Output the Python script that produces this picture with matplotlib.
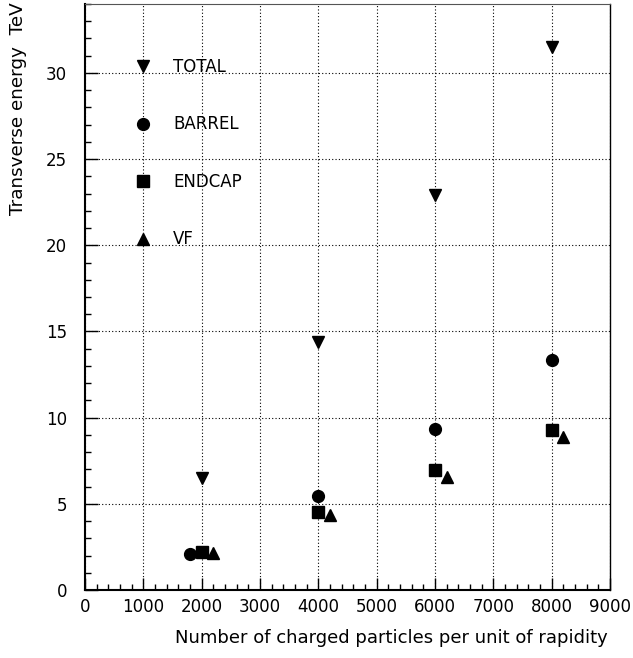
import matplotlib
matplotlib.use("Agg")
import matplotlib.pyplot as plt
from matplotlib.ticker import MultipleLocator

# Data
total_x = [2000, 4000, 6000, 8000]
total_y = [6.5, 14.4, 22.9, 31.5]
barrel_x = [1800, 4000, 6000, 8000]
barrel_y = [2.1, 5.45, 9.35, 13.35]
endcap_x = [2000, 4000, 6000, 8000]
endcap_y = [2.2, 4.55, 6.95, 9.3]
vf_x = [2200, 4200, 6200, 8200]
vf_y = [2.15, 4.35, 6.55, 8.85]

plt.rcParams['font.family'] = ['DejaVu Sans']

fig = plt.figure(figsize=(6.33, 6.58), dpi=100)
ax = fig.add_axes([85/633, 1-590/658, 525/633, 586/658])

ms = 8.5
h1, = ax.plot(total_x, total_y, 'v', color='black', ms=ms+0.5, label='TOTAL')
h2, = ax.plot(barrel_x, barrel_y, 'o', color='black', ms=ms, label='BARREL')
h3, = ax.plot(endcap_x, endcap_y, 's', color='black', ms=ms-0.5, label='ENDCAP')
h4, = ax.plot(vf_x, vf_y, '^', color='black', ms=ms+0.5, label='VF')

ax.set_xlim(0, 9000)
ax.set_ylim(0, 34)
ax.xaxis.set_major_locator(MultipleLocator(1000))
ax.xaxis.set_minor_locator(MultipleLocator(200))
ax.yaxis.set_major_locator(MultipleLocator(5))
ax.yaxis.set_minor_locator(MultipleLocator(1))

ax.tick_params(which='both', direction='in', top=False, right=False, labelsize=12, colors='black')
ax.tick_params(which='major', length=9, width=1.0)
ax.tick_params(which='minor', length=4.5, width=1.0)
ax.tick_params(axis='y', pad=13)
ax.tick_params(axis='x', pad=6)

ax.grid(True, which='major', color='black', linestyle=(0, (1, 2)), linewidth=0.8)
for s in ['left', 'bottom']:
    ax.spines[s].set_linewidth(1.5)
ax.spines['right'].set_linewidth(1.0)
ax.spines['top'].set_linewidth(0.8)
ax.spines['top'].set_color('#555555')

leg = ax.legend(handles=[h1, h2, h3, h4], loc='upper left', bbox_to_anchor=(0.095, 0.908),
                frameon=False, numpoints=1, handlelength=1.0, handletextpad=1.3,
                labelspacing=2.37, borderpad=0, borderaxespad=0, fontsize=12)

fig.text(18/633, 1-2/658, 'Transverse energy  TeV', rotation=90, ha='center', va='top', fontsize=13.2)
fig.text(608/633, 1-638/658, 'Number of charged particles per unit of rapidity', ha='right', va='center', fontsize=13)

fig.savefig('out.png', dpi=100)
